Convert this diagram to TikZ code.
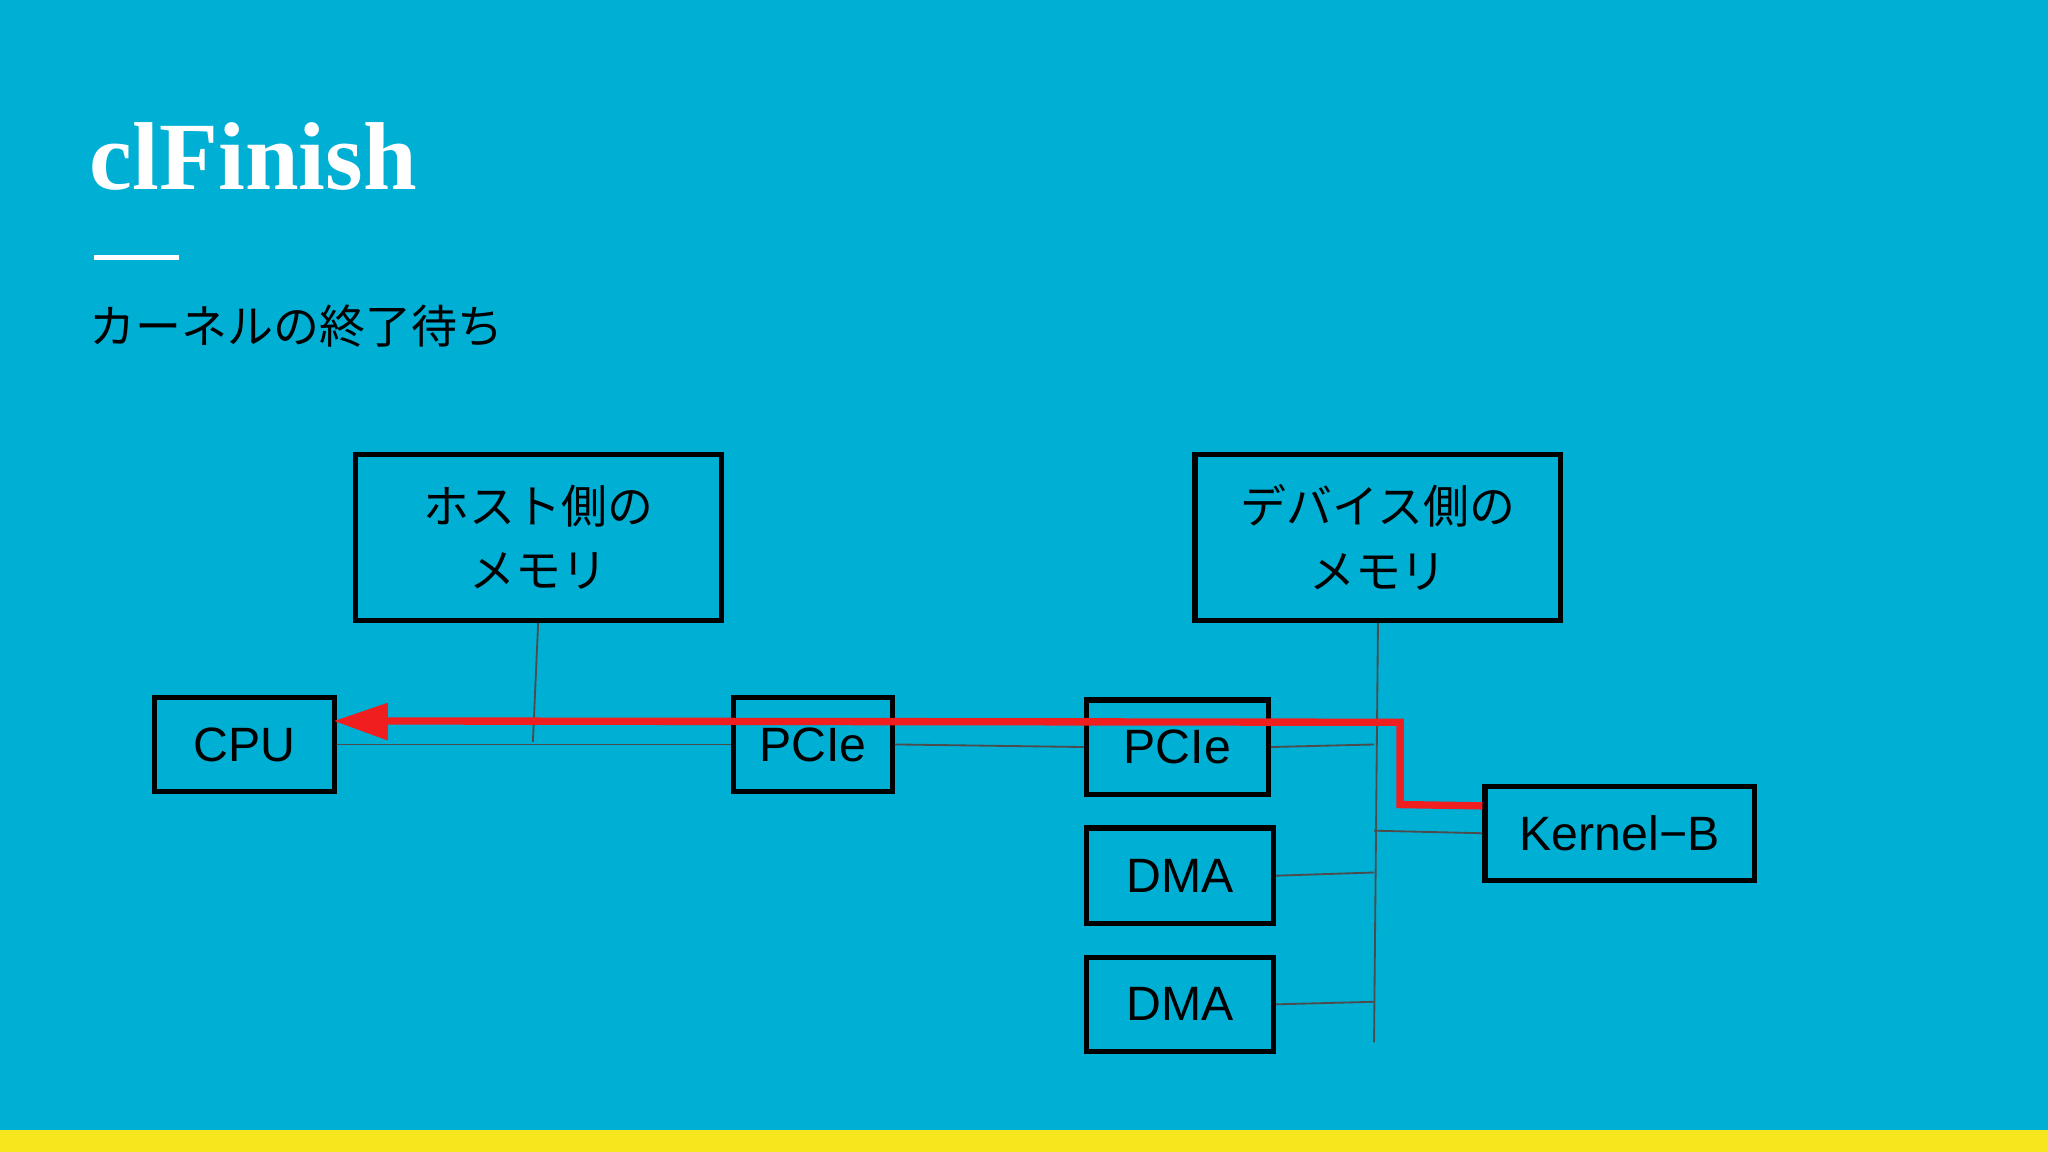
\documentclass[tikz,border=0pt]{standalone}
\usepackage{fontspec}
\setmainfont{Liberation Sans}
\newfontfamily\cjk{Noto Sans CJK JP}
\newfontfamily\ttl{Liberation Serif}
\definecolor{bg}{HTML}{00AFD4}
\definecolor{yel}{HTML}{F7E51E}
\definecolor{arr}{HTML}{F01E1E}
\begin{document}
\begin{tikzpicture}[x=0.01cm,y=-0.01cm,
  box/.style={draw=black,line width=1.1pt,inner sep=0pt,anchor=north west},
  lbl/.style={font=\fontsize{10.5}{12}\selectfont},
  jl/.style={font=\cjk\fontsize{10}{14}\selectfont,align=center},
  wire/.style={draw=black!70,line width=0.4pt}]
\fill[bg] (0,0) rectangle (1568,882);
\useasboundingbox (0,0) rectangle (1568,882);
\fill[yel] (0,865) rectangle (1568,882);
\node[anchor=base west,inner sep=0pt,text=white,font=\ttl\bfseries\fontsize{21}{24}\selectfont] (title) at (68,145) {clFinish};
\draw[white,line width=1.2pt] (72,197) -- (137,197);
\node[anchor=west,inner sep=0pt,font=\cjk\fontsize{10}{12}\selectfont] (sub) at (68,250) {カーネルの終了待ち};
\node[box,minimum width=2.80cm,minimum height=1.27cm,jl] (hm) at (270,346) {ホスト側の\\メモリ};
\node[box,minimum width=2.80cm,minimum height=1.27cm,jl] (dm) at (913,346) {デバイス側の\\メモリ};
\node[box,minimum width=1.38cm,minimum height=0.72cm,lbl] (cpu) at (116,532) {CPU};
\node[box,minimum width=1.21cm,minimum height=0.72cm,lbl] (p1) at (560,532) {PCIe};
\node[box,minimum width=1.39cm,minimum height=0.72cm,lbl] (p2) at (830,534) {PCIe};
\node[box,minimum width=1.43cm,minimum height=0.73cm,lbl] (d1) at (830,632) {DMA};
\node[box,minimum width=1.43cm,minimum height=0.72cm,lbl] (d2) at (830,731) {DMA};
\node[box,minimum width=2.06cm,minimum height=0.72cm,lbl] (kb) at (1135,600) {Kernel−B};
\coordinate (bb) at (1052,798);
\coordinate (hj) at (408,568);
\draw[wire] (cpu.east) -- (p1.west);
\draw[wire] (hm.south) -- (hj);
\draw[wire] (p1.east) -- (p2.west);
\draw[wire] (dm.south) -- (bb);
\draw[wire] (p2.east) -- (1052,570);
\draw[wire] (d1.east) -- (1052,668);
\draw[wire] (d2.east) -- (1052,767);
\draw[wire] (kb.west) -- (1052,636);
\coordinate (r1) at (1072,616);
\coordinate (r2) at (1072,553);
\coordinate (r3) at (256,552);
\draw[arr,line width=1.6pt] (kb.west|-0,617) -- (r1) -- (r2) -- (296,552);
\fill[arr] (r3) -- (297,538) -- (297,567) -- cycle;
\end{tikzpicture}
\end{document}
